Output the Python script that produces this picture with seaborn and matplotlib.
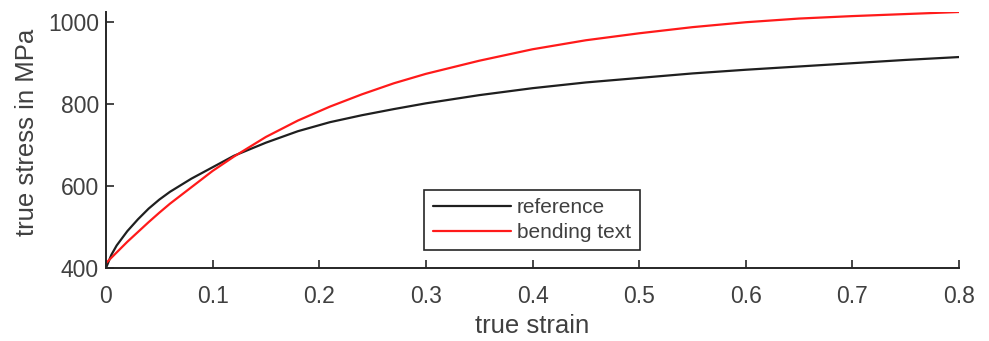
import matplotlib
matplotlib.use("Agg")
import matplotlib.pyplot as plt
import seaborn as sns
import pandas as pd

# True strain sample positions shared by both flow curves
strain = [0.0, 0.005, 0.01, 0.02, 0.03, 0.04, 0.05, 0.06, 0.08, 0.10, 0.12,
          0.15, 0.18, 0.21, 0.24, 0.27, 0.30, 0.35, 0.40, 0.45, 0.50, 0.55,
          0.60, 0.65, 0.70, 0.75, 0.80]

# True stress (MPa) of the reference flow curve
stress_reference = [400, 432, 455, 490, 519, 545, 567, 586, 618, 646, 674,
                    706, 734, 756, 773, 788, 802, 822, 839, 853, 864, 875,
                    884, 892, 900, 908, 915]

# True stress (MPa) identified from the bending test
stress_bending = [412, 425, 438, 464, 488, 512, 535, 557, 597, 637, 672,
                  720, 760, 794, 824, 851, 874, 906, 934, 956, 973, 988,
                  1000, 1009, 1015, 1020, 1025]

series_names = ["reference", "bending text"]
series_colors = ["#1f1f1f", "#ff1a1a"]

x_ticks = [0, 0.1, 0.2, 0.3, 0.4, 0.5, 0.6, 0.7, 0.8]
x_tick_labels = ["0", "0.1", "0.2", "0.3", "0.4", "0.5", "0.6", "0.7", "0.8"]
y_ticks = [400, 600, 800, 1000]

df = pd.concat([
    pd.DataFrame({"strain": strain, "stress": stress_reference, "curve": series_names[0]}),
    pd.DataFrame({"strain": strain, "stress": stress_bending, "curve": series_names[1]}),
], ignore_index=True)

sns.set_style("ticks")
plt.rcParams["font.family"] = ["Liberation Sans", "DejaVu Sans"]

text_color = "#404040"
axis_color = "#262626"

fig = plt.figure(figsize=(9.89, 3.41), dpi=100)
ax = fig.add_axes([106 / 989, 1 - 268 / 341, (959 - 106) / 989, (268 - 12) / 341])

sns.lineplot(data=df, x="strain", y="stress", hue="curve",
             palette=dict(zip(series_names, series_colors)),
             hue_order=series_names, linewidth=1.6, ax=ax, legend=True,
             estimator=None, sort=False)

ax.set_xlim(0, 0.8)
ax.set_ylim(400, 1025)
ax.set_xticks(x_ticks)
ax.set_xticklabels(x_tick_labels)
ax.set_yticks(y_ticks)

for side in ("top", "right"):
    ax.spines[side].set_visible(False)
for side in ("left", "bottom"):
    ax.spines[side].set_color(axis_color)
    ax.spines[side].set_linewidth(1.4)

ax.tick_params(axis="both", direction="in", length=6, width=1.2,
               color=axis_color, labelcolor=text_color, labelsize=16.5)
ax.tick_params(axis="x", pad=12)
ax.tick_params(axis="y", pad=5)

ax.set_xlabel("true strain", fontsize=18.5, color=text_color)
ax.set_ylabel("true stress in MPa", fontsize=18.5, color=text_color)
ax.xaxis.set_label_coords(0.5, -0.18)
ax.yaxis.set_label_coords(-0.079, 0.53)

leg = ax.legend(loc="center", bbox_to_anchor=(0.4994, 0.1875),
                fontsize=15, frameon=True, fancybox=False,
                handlelength=3.75, handletextpad=0.3, borderpad=0.4,
                labelspacing=0.3, borderaxespad=0)
leg.get_frame().set_edgecolor(axis_color)
leg.get_frame().set_linewidth(1.2)
leg.get_frame().set_facecolor("white")
leg.get_frame().set_alpha(1)
for t in leg.get_texts():
    t.set_color(text_color)
for line in leg.get_lines():
    line.set_linewidth(1.6)

fig.savefig("out.png", dpi=100)
